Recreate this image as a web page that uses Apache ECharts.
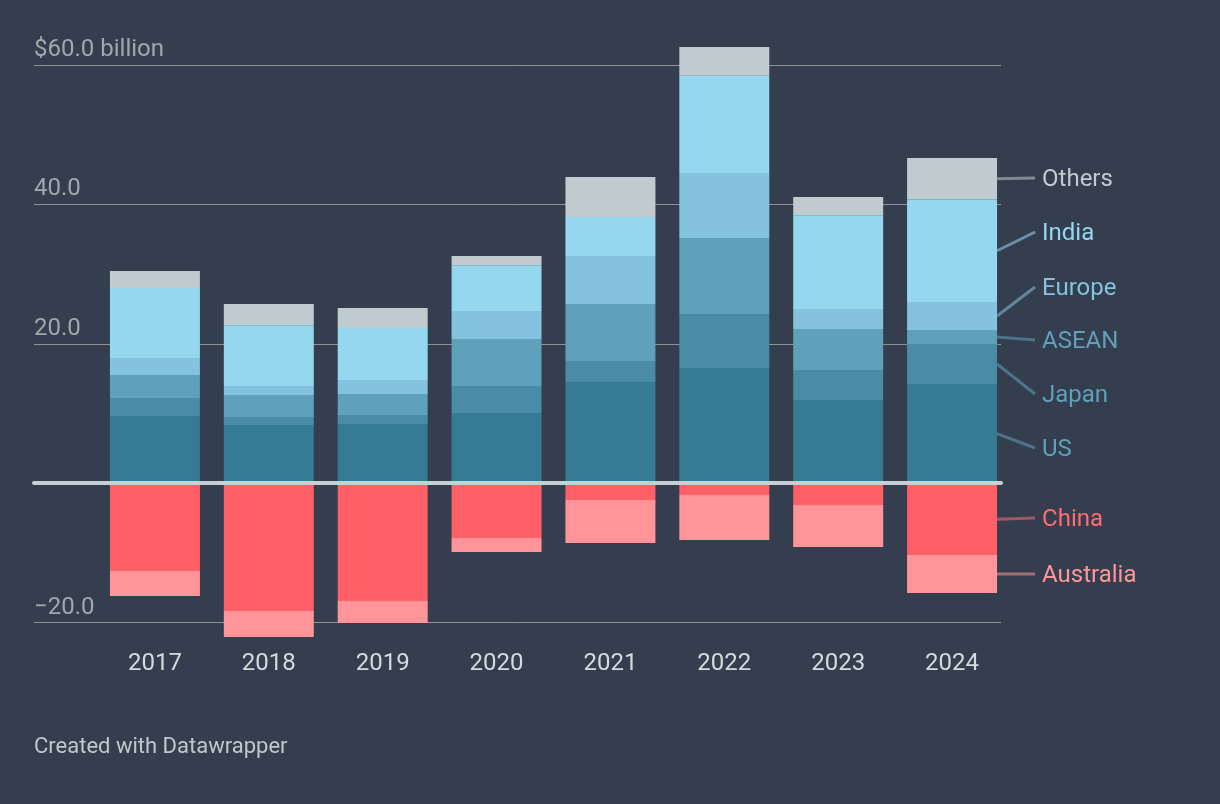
<!DOCTYPE html>
<html>
<head>
<meta charset="utf-8">
<script src="https://cdn.jsdelivr.net/npm/echarts@6/dist/echarts.min.js"></script>
<style>
html,body{margin:0;padding:0;background:#343e4f;}
#chart{width:1220px;height:804px;}
</style>
</head>
<body>
<div id="chart"></div>
<script>
// ---- data (billion USD) ----
const years = ['2017','2018','2019','2020','2021','2022','2023','2024'];
const US        = [9.66, 8.36, 8.51, 10.09, 14.53, 16.54, 11.95, 14.25];
const Japan     = [2.58, 1.15, 1.29, 3.87, 3.02, 7.74, 4.31, 5.74];
const ASEAN     = [3.30, 3.16, 3.01, 6.74, 8.17, 10.91, 5.88, 2.01];
const Europe    = [2.44, 1.29, 2.01, 4.02, 6.89, 9.33, 2.87, 4.02];
const India     = [10.04, 8.71, 7.46, 6.55, 5.60, 13.96, 13.44, 14.68];
const Others    = [2.44, 3.05, 2.87, 1.34, 5.74, 4.12, 2.63, 5.98];
const China     = [-12.58, -18.32, -16.89, -7.85, -2.40, -1.68, -3.11, -10.29];
const Australia = [-3.59, -3.73, -3.15, -2.01, -6.17, -6.46, -6.03, -5.45];
const yTicks = [-20, 0, 20, 40, 60];

// ---- styles ----
const FONT = 'Roboto, "Noto Sans", sans-serif';
const BAR_COLORS = {
  US:'#377a94', Japan:'#4a8ca6', ASEAN:'#5fa0ba', Europe:'#84c3de',
  India:'#96d7f0', Others:'#c0cbcf', China:'#ff5f67', Australia:'#ff9598'
};
const LABEL_COLORS = {
  US:'#5fa0ba', Japan:'#5fa0ba', ASEAN:'#5fa0ba', Europe:'#84c3de',
  India:'#96d7f0', Others:'#c0cbcf', China:'#ff6b72', Australia:'#ff9598'
};
const LABEL_Y = {Others:180, India:234, Europe:289, ASEAN:342, Japan:396, US:450, China:520, Australia:576};
const BAR_RATIO = 0.79;

const posSeries = [['US',US],['Japan',Japan],['ASEAN',ASEAN],['Europe',Europe],['India',India],['Others',Others]];
const negSeries = [['China',China],['Australia',Australia]];

// midpoint of each segment of the last bar (for direct labels)
const last = years.length - 1;
const labelData = [];
let acc = 0;
posSeries.forEach(([n, arr]) => { labelData.push({name:n, value:[last, acc + arr[last]/2]}); acc += arr[last]; });
acc = 0;
negSeries.forEach(([n, arr]) => { labelData.push({name:n, value:[last, acc + arr[last]/2]}); acc += arr[last]; });

const series = [];
posSeries.concat(negSeries).forEach(([n, arr]) => series.push({
  name:n, type:'bar', stack:'total', stackStrategy:'samesign', data:arr, barCategoryGap:'21%',
  itemStyle:{color:BAR_COLORS[n]}, xAxisIndex:0, yAxisIndex:0, emphasis:{disabled:true}
}));
series.push({
  type:'custom', xAxisIndex:0, yAxisIndex:0, z:5, clip:false,
  data: labelData,
  renderItem: function(params, api){
    const item = labelData[params.dataIndex];
    const p = api.coord([api.value(0), api.value(1)]);
    const bw = api.size([1, 0])[0] * BAR_RATIO;
    const x0 = p[0] + bw/2;
    const ly = LABEL_Y[item.name];
    const c = LABEL_COLORS[item.name];
    return {type:'group', children:[
      {type:'line', shape:{x1:x0, y1:p[1], x2:x0+38, y2:ly-2},
       style:{stroke:c, lineWidth:3, opacity:0.55}},
      {type:'text', style:{x:x0+45, y:ly, text:item.name, fill:c,
        fontSize:24, fontFamily:FONT, align:'left', verticalAlign:'middle'}}
    ]};
  }
});

const chart = echarts.init(document.getElementById('chart'));
chart.setOption({
  backgroundColor:'#343e4f',
  animation:false,
  textStyle:{fontFamily:FONT},
  title:{
    text:'Created with Datawrapper', left:34, top:736, padding:0,
    textStyle:{color:'#c3c7cb', fontSize:22, fontWeight:'normal', fontFamily:FONT}
  },
  grid:[
    {left:98, right:211, top:30.25, bottom:163.9},
    {left:34, right:219, top:65, bottom:181.4}
  ],
  xAxis:[
    {type:'category', gridIndex:0, data:years,
     axisLine:{show:false}, axisTick:{show:false}, splitLine:{show:false},
     axisLabel:{color:'#d5dadd', fontSize:24, fontFamily:FONT, margin:12}},
    {type:'value', gridIndex:1, min:0, max:1, z:10,
     axisLabel:{show:false}, axisTick:{show:false}, splitLine:{show:false},
     axisLine:{show:true, onZero:true, lineStyle:{color:'#c8d0d4', width:4}}}
  ],
  yAxis:[
    {type:'value', gridIndex:0, min:-22.5, max:65,
     axisLine:{show:false}, axisTick:{show:false}, axisLabel:{show:false}, splitLine:{show:false}},
    {type:'value', gridIndex:1, min:yTicks[0], max:yTicks[yTicks.length-1], interval:20,
     axisLine:{show:false}, axisTick:{show:false},
     splitLine:{show:true, lineStyle:{color:'#8e9196', width:1}},
     axisLabel:{inside:true, margin:0, color:'#a3a7ab', fontSize:24, fontFamily:FONT,
       verticalAlign:'bottom', lineHeight:30,
       formatter:function(v){
         if (v === 0) return '';
         if (v === 60) return '$60.0 billion';
         return (v < 0 ? '\u2212' : '') + Math.abs(v).toFixed(1);
       }}}
  ],
  series: series
});
</script>
</body>
</html>
